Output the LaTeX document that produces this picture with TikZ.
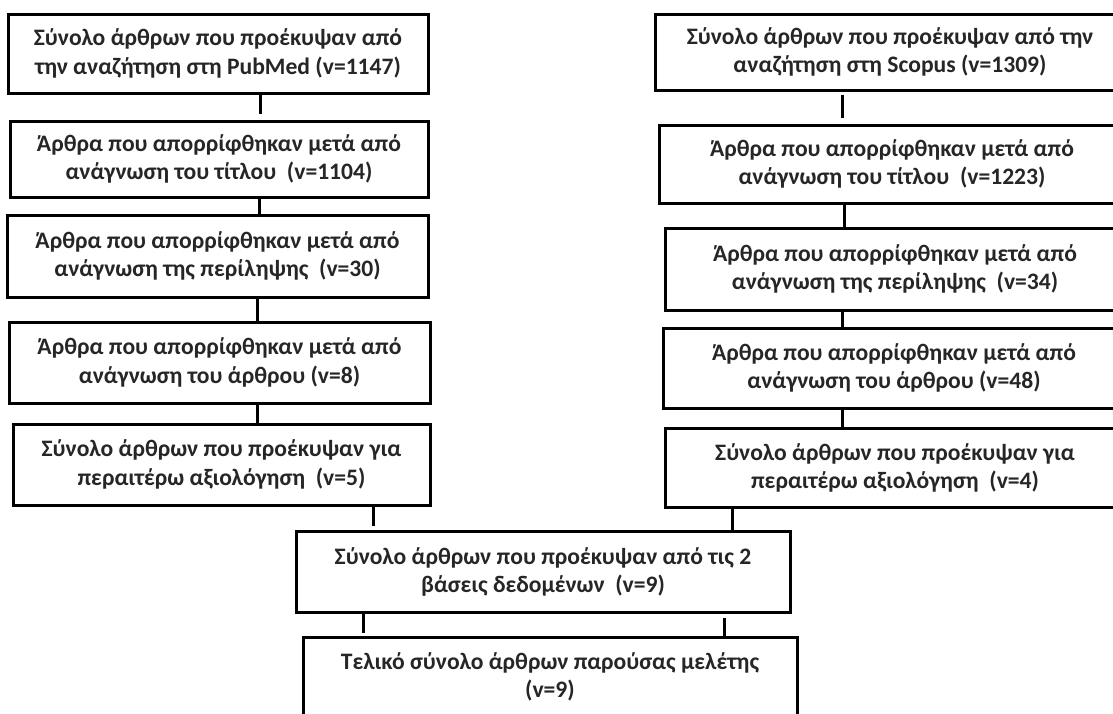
\documentclass[tikz,border=0pt]{standalone}
\usepackage{fontspec}
\setmainfont{Carlito}
\begin{document}
\begin{tikzpicture}[x=1pt,y=-1pt,
  box/.style={draw=black, line width=3pt, align=center, inner sep=0pt,
    font=\fontsize{23.6}{28.5}\selectfont\bfseries, text=black!85},
  conn/.style={draw=black, line width=3pt}]
\useasboundingbox (0,0) rectangle (1113,713);
\clip (0,0) rectangle (1113,713);
\fill[white] (0,0) rectangle (1113,713);
% left column
\node[box, minimum width=420, minimum height=79] (l1) at (218,53.5) {Σύνολο άρθρων που προέκυψαν από\\την αναζήτηση στη PubMed (v=1147)};
\node[box, minimum width=418, minimum height=76] (l2) at (219,159) {Άρθρα που απορρίφθηκαν μετά από\\ανάγνωση του τίτλου\ \ (v=1104)};
\node[box, minimum width=421, minimum height=82] (l3) at (217.5,256) {Άρθρα που απορρίφθηκαν μετά από\\ανάγνωση της περίληψης\ \ (v=30)};
\node[box, minimum width=421, minimum height=81] (l4) at (219.5,362.5) {Άρθρα που απορρίφθηκαν μετά από\\ανάγνωση του άρθρου (v=8)};
\node[box, minimum width=417, minimum height=81] (l5) at (221.5,464.5) {Σύνολο άρθρων που προέκυψαν για\\περαιτέρω αξιολόγηση\ \ (v=5)};
% right column
\node[box, minimum width=470, minimum height=76] (r1) at (890,52) {Σύνολο άρθρων που προέκυψαν από την\\αναζήτηση στη Scopus (v=1309)};
\node[box, minimum width=466, minimum height=78] (r2) at (892,164) {Άρθρα που απορρίφθηκαν μετά από\\ανάγνωση του τίτλου\ \ (v=1223)};
\node[box, minimum width=460, minimum height=82] (r3) at (895,269) {Άρθρα που απορρίφθηκαν μετά από\\ανάγνωση της περίληψης\ \ (v=34)};
\node[box, minimum width=462, minimum height=80] (r4) at (894,368) {Άρθρα που απορρίφθηκαν μετά από\\ανάγνωση του άρθρου (v=48)};
\node[box, minimum width=460, minimum height=79] (r5) at (895,468) {Σύνολο άρθρων που προέκυψαν για\\περαιτέρω αξιολόγηση\ \ (v=4)};
% merge and final
\node[box, minimum width=494, minimum height=81] (m) at (543,572) {Σύνολο άρθρων που προέκυψαν από τις 2\\βάσεις δεδομένων\ \ (v=9)};
\node[box, minimum width=494, minimum height=80] (f) at (550,677) {Τελικό σύνολο άρθρων παρούσας μελέτης\\(v=9)};
% connector x positions
\coordinate (xa) at (260,0);
\coordinate (xb) at (259,0);
\coordinate (xc) at (257,0);
\coordinate (xd) at (373,0);
\coordinate (xe) at (842,0);
\coordinate (xf) at (844,0);
\coordinate (xg) at (732,0);
\coordinate (xh) at (363,0);
\coordinate (xi) at (724,0);
\draw[conn, shorten >=6pt] (l1.south -| xa) -- (l2.north -| xa);
\draw[conn] (l2.south -| xb) -- (l3.north -| xb);
\draw[conn] (l3.south -| xc) -- (l4.north -| xc);
\draw[conn] (l4.south -| xc) -- (l5.north -| xc);
\draw[conn, shorten >=4pt] (l5.south -| xd) -- (m.north -| xd);
\draw[conn, shorten >=6pt, shorten <=3pt] (r1.south -| xe) -- (r2.north -| xe);
\draw[conn] (r2.south -| xf) -- (r3.north -| xf);
\draw[conn] (r3.south -| xe) -- (r4.north -| xe);
\draw[conn] (r4.south -| xe) -- (r5.north -| xe);
\draw[conn] (r5.south -| xg) -- (m.north -| xg);
\draw[conn, shorten >=3pt] (m.south -| xh) -- (f.north -| xh);
\draw[conn, shorten <=4pt] (m.south -| xi) -- (f.north -| xi);
\end{tikzpicture}
\end{document}
